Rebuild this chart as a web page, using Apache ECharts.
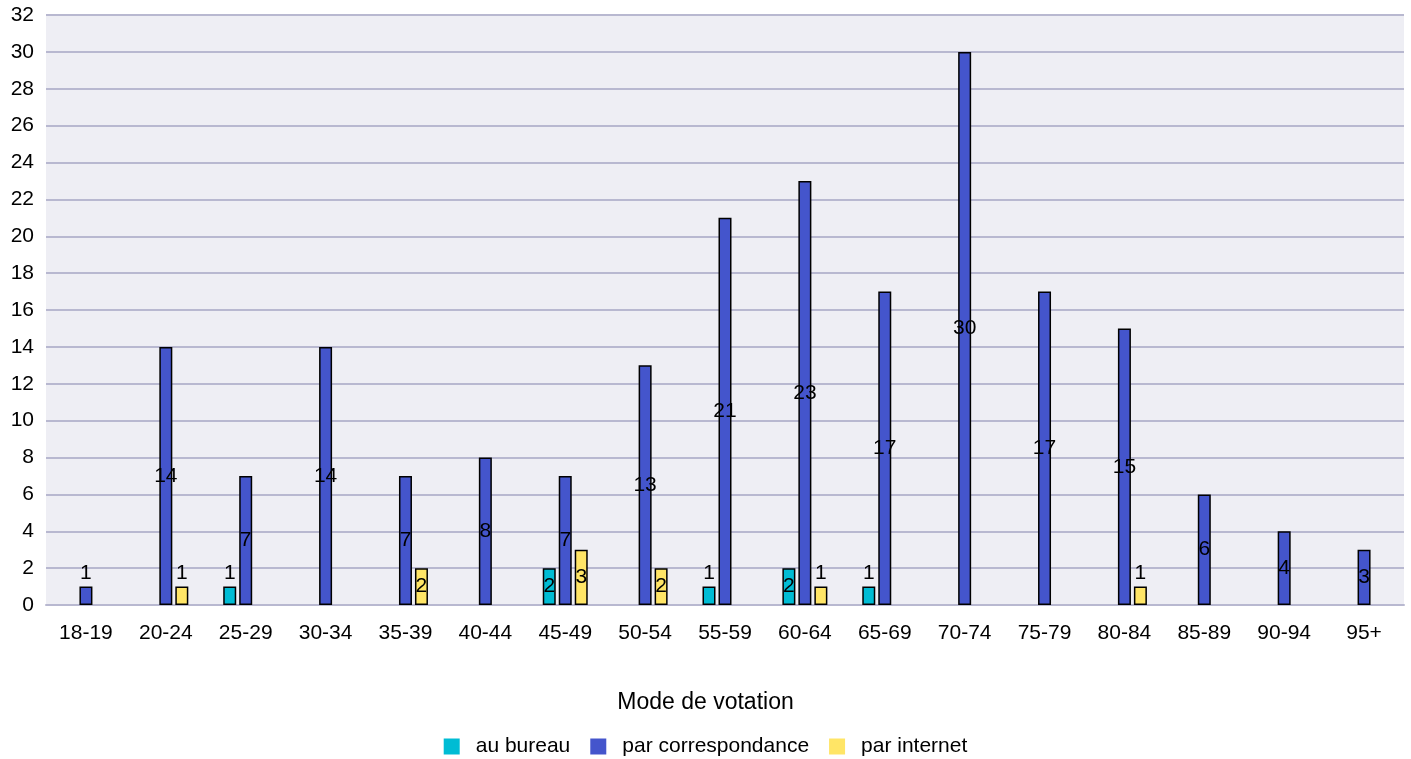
<!DOCTYPE html>
<html>
<head>
<meta charset="utf-8">
<script src="https://cdn.jsdelivr.net/npm/echarts@6/dist/echarts.min.js"></script>
<style>html,body{margin:0;padding:0;background:#fff}#c{width:1411px;height:759px}</style>
</head>
<body>
<div id="c"></div>
<script>
const categories = ['18-19','20-24','25-29','30-34','35-39','40-44','45-49','50-54','55-59','60-64','65-69','70-74','75-79','80-84','85-89','90-94','95+'];
const auBureau = [null,null,1,null,null,null,2,null,1,2,1,null,null,null,null,null,null];
const parCorrespondance = [1,14,7,14,7,8,7,13,21,23,17,30,17,15,6,4,3];
const parInternet = [null,1,null,null,2,null,3,2,null,1,null,null,null,1,null,null,null];
const seriesNames = ['au bureau','par correspondance','par internet'];
const colors = ['#00BCD4','#4455CC','#FFE566'];
const font = 'Liberation Sans, Arial, sans-serif';

function toData(arr){
  return arr.map(v => {
    if (v === null) return null;
    if (v <= 1) return {value: v, label: {position: 'top', distance: 3}};
    return v;
  });
}
const chart = echarts.init(document.getElementById('c'));
const mk = (name, arr, i) => ({
  name, type: 'bar', data: toData(arr), barWidth: 13, barGap: '23%',
  itemStyle: {color: colors[i], borderColor: '#000', borderWidth: 1.5},
  label: {show: true, position: 'inside', color: '#000', fontSize: 21, fontFamily: font},
  animation: false
});
chart.setOption({
  animation: false,
  color: colors,
  title: {text: 'Mode de votation', left: 'center', top: 686,
    textStyle: {fontSize: 23, fontWeight: 'normal', color: '#000', fontFamily: font}},
  legend: {top: 731, left: 'center', itemWidth: 16, itemHeight: 16, itemGap: 20,
    icon: 'rect', itemStyle: {borderWidth: 0},
    textStyle: {fontSize: 21, color: '#000', fontFamily: font, padding: [0,0,0,11]}},
  grid: {left: 46, right: 7, top: 15, bottom: 154, show: true, backgroundColor: '#EEEEF4', borderWidth: 0},
  xAxis: {type: 'category', data: categories,
    axisLine: {show: true, lineStyle: {color: '#B8B8D0', width: 2}},
    axisTick: {show: false},
    axisLabel: {fontSize: 21, color: '#000', fontFamily: font, margin: 18}},
  yAxis: {type: 'value', min: 0, max: 32, interval: 2,
    axisLine: {show: false}, axisTick: {show: false},
    splitLine: {lineStyle: {color: '#B8B8D0', width: 2}},
    axisLabel: {fontSize: 21, color: '#000', fontFamily: font, margin: 12}},
  series: [mk(seriesNames[0], auBureau, 0), mk(seriesNames[1], parCorrespondance, 1), mk(seriesNames[2], parInternet, 2)]
});
</script>
</body>
</html>
